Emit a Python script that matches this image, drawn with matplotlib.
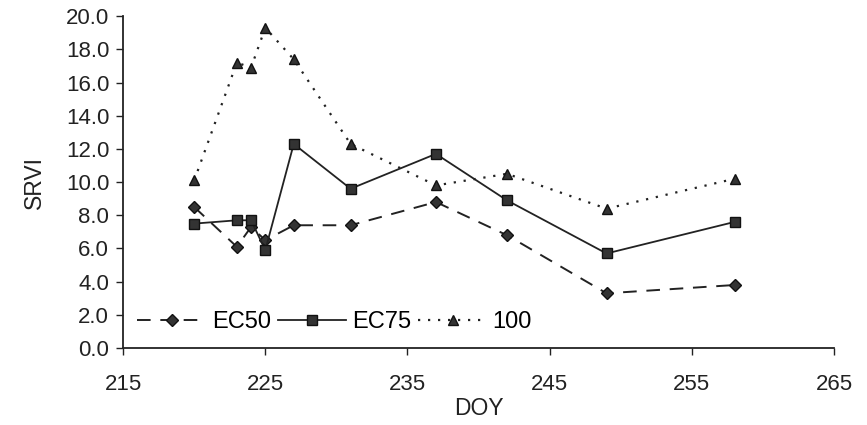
import matplotlib.pyplot as plt
from matplotlib.ticker import FormatStrFormatter

plt.rcParams['font.family'] = ['Liberation Sans', 'DejaVu Sans']

# day of year for every sampling date
doy = [220, 223, 224, 225, 227, 231, 237, 242, 249, 258]

# SRVI for each treatment
ec50 = [8.5, 6.1, 7.3, 6.5, 7.4, 7.4, 8.8, 6.8, 3.3, 3.8]
ec75 = [7.5, 7.7, 7.7, 5.9, 12.3, 9.6, 11.7, 8.9, 5.7, 7.6]
t100 = [10.1, 17.2, 16.9, 19.3, 17.4, 12.3, 9.8, 10.5, 8.4, 10.2]

fig = plt.figure(figsize=(8.67, 4.25), dpi=100)
ax = fig.add_axes([0.142, 0.181, 0.820, 0.781])

ax.plot(doy, ec50, color='#222222', lw=1.4, ls=(0, (7, 5)), marker='D',
        ms=6, mfc='#333333', mec='#111111', label='EC50')
ax.plot(doy, ec75, color='#222222', lw=1.3, ls='-', marker='s',
        ms=6.5, mfc='#333333', mec='#111111', label='EC75')
ax.plot(doy, t100, color='#222222', lw=1.6, ls=(0, (1, 3.5)), marker='^',
        ms=7.5, mfc='#333333', mec='#111111', label='100')

ax.set_xlim(215, 265)
ax.set_ylim(0, 20)
ax.set_xticks(range(215, 266, 10))
ax.set_yticks([i * 2.0 for i in range(11)])
ax.yaxis.set_major_formatter(FormatStrFormatter('%.1f'))

for side in ['top', 'right']:
    ax.spines[side].set_visible(False)
for side in ['left', 'bottom']:
    ax.spines[side].set_linewidth(1.3)
    ax.spines[side].set_color('#222222')

ax.tick_params(axis='both', direction='out', length=5, width=1, labelsize=16,
               colors='#222222')
ax.tick_params(axis='x', pad=14)
ax.tick_params(axis='y', pad=5)

ax.set_xlabel('DOY', fontsize=16.5, color='#222222', labelpad=1)
ax.set_ylabel('SRVI', fontsize=16.5, color='#222222', labelpad=14)

ax.legend(loc='center left', bbox_to_anchor=(0.02, 0.078), ncol=3, frameon=False,
          fontsize=17, handlelength=2.9, columnspacing=0.3, handletextpad=0.25,
          borderaxespad=0.0, borderpad=0.0)

fig.savefig('out.png', dpi=100)
